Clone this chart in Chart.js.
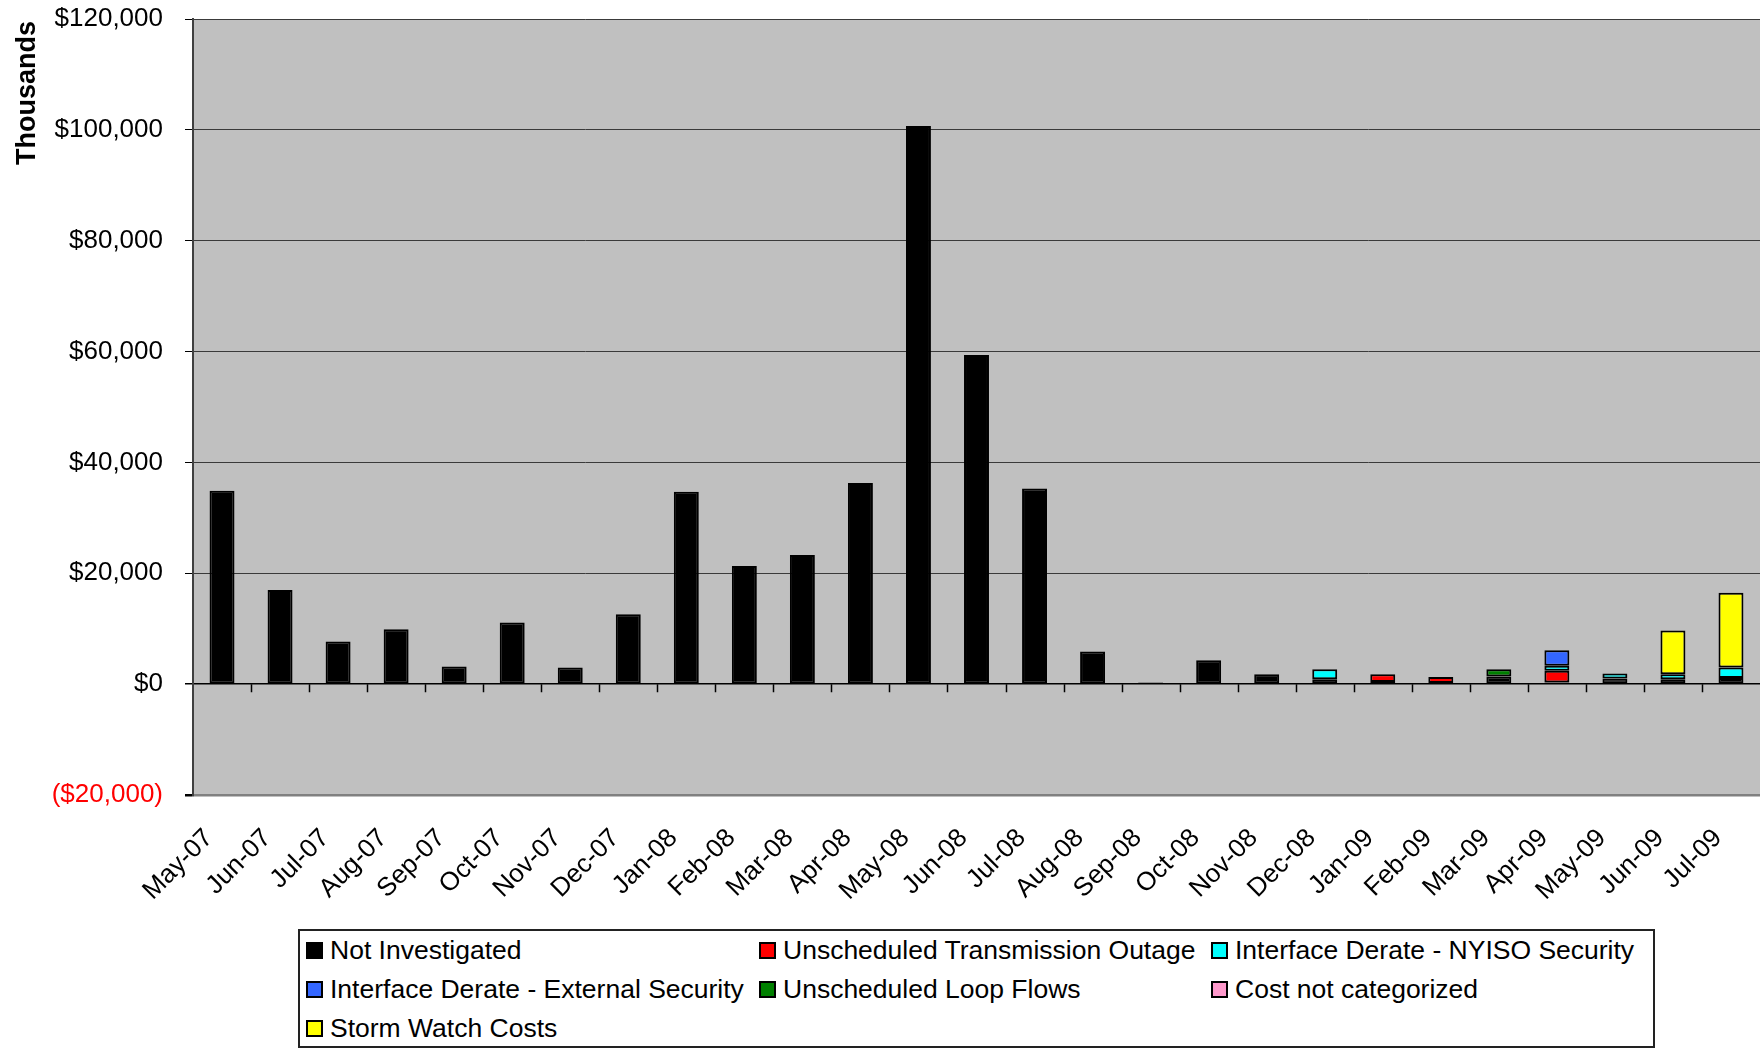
<!DOCTYPE html>
<html>
<head>
<meta charset="utf-8">
<title>Congestion costs by category</title>
<script src="https://cdn.jsdelivr.net/npm/chart.js@4"></script>
<style>
  html, body { margin: 0; padding: 0; background: #fff; }
  #wrap { position: relative; width: 1760px; height: 1048px; overflow: hidden; font-family: "Liberation Sans", Arial, sans-serif; }
  #chart { position: absolute; left: 0; top: 0; }
  #ytitle { position: absolute; left: -54px; top: 78px; width: 160px; line-height: 30px; text-align: center;
            font-size: 27px; font-weight: bold; transform: rotate(-90deg); color: #000; }
  #legend { position: absolute; left: 298px; top: 929px; width: 1357px; height: 119px; box-sizing: border-box;
            border: 2px solid #222; background: #fff; padding: 0 0 0 6px;
            display: grid; grid-template-columns: 453px 452px auto; grid-auto-rows: 39px; }
  .item { display: flex; align-items: center; font-size: 26.5px; color: #000; white-space: nowrap; }
  .box { width: 13px; height: 13px; border: 2px solid #000; margin-right: 7px; flex: none; }
</style>
</head>
<body>
<div id="wrap">
  <canvas id="chart" width="1760" height="1048"></canvas>
  <div id="ytitle">Thousands</div>
  <div id="legend"></div>
</div>
<script>
/*=============== DATA ===============*/

// Months on the x axis
const months = ['May-07', 'Jun-07', 'Jul-07', 'Aug-07', 'Sep-07', 'Oct-07', 'Nov-07', 'Dec-07',
    'Jan-08', 'Feb-08', 'Mar-08', 'Apr-08', 'May-08', 'Jun-08', 'Jul-08', 'Aug-08', 'Sep-08',
    'Oct-08', 'Nov-08', 'Dec-08', 'Jan-09', 'Feb-09', 'Mar-09', 'Apr-09', 'May-09', 'Jun-09', 'Jul-09'];

// Cost per category, $ thousands
const notInvestigated = [34900, 17000, 7700, 9900, 3200, 11100, 3000, 12600,
    34700, 21300, 23300, 36300, 100700, 59400, 35300, 5900, 300,
    4300, 1800, 900, 400, 200, 1400, 300, 1000, 900, 1100];
const transmissionOutage = [0, 0, 0, 0, 0, 0, 0, 0,
    0, 0, 0, 0, 0, 0, 0, 0, 0,
    0, 0, 0, 1400, 1100, 0, 2100, 0, 0, 0];
const nyisoSecurity = [0, 0, 0, 0, 0, 0, 0, 0,
    0, 0, 0, 0, 0, 0, 0, 0, 0,
    0, 0, 1800, 0, 0, 0, 900, 900, 900, 1900];
const externalSecurity = [0, 0, 0, 0, 0, 0, 0, 0,
    0, 0, 0, 0, 0, 0, 0, 0, 0,
    0, 0, 0, 0, 0, 0, 2800, 0, 0, 0];
const loopFlows = [0, 0, 0, 0, 0, 0, 0, 0,
    0, 0, 0, 0, 0, 0, 0, 0, 0,
    0, 0, 0, 0, 0, 1300, 0, 0, 0, 0];
const notCategorized = [0, 0, 0, 0, 0, 0, 0, 0,
    0, 0, 0, 0, 0, 0, 0, 0, 0,
    0, 0, 0, 0, 0, 0, 0, 0, 0, 0];
const stormWatch = [0, 0, 0, 0, 0, 0, 0, 0,
    0, 0, 0, 0, 0, 0, 0, 0, 0,
    0, 0, 0, 0, 0, 0, 0, 0, 7900, 13500];

// Y axis range
const yMin = -20000;
const yMax = 120000;
const yStep = 20000;

/*=============== SERIES ===============*/

const series = [
    { label: 'Not Investigated', data: notInvestigated, color: '#000000' },
    { label: 'Unscheduled Transmission Outage', data: transmissionOutage, color: '#FF0000' },
    { label: 'Interface Derate - NYISO Security', data: nyisoSecurity, color: '#00FFFF' },
    { label: 'Interface Derate - External Security', data: externalSecurity, color: '#3366FF' },
    { label: 'Unscheduled Loop Flows', data: loopFlows, color: '#008000' },
    { label: 'Cost not categorized', data: notCategorized, color: '#FF99CC' },
    { label: 'Storm Watch Costs', data: stormWatch, color: '#FFFF00' }
];

// Gray plot area
const plotBackground = {
    id: 'plotBackground',
    beforeDraw(chart) {
        const { ctx, chartArea: a } = chart;
        ctx.save();
        ctx.fillStyle = '#C0C0C0';
        ctx.fillRect(a.left, a.top, a.right - a.left, a.bottom - a.top);
        ctx.restore();
    }
};

// Small tick marks hanging under the zero line between categories
const zeroTicks = {
    id: 'zeroTicks',
    afterDatasetsDraw(chart) {
        const { ctx, scales: { x, y } } = chart;
        const y0 = y.getPixelForValue(0);
        ctx.save();
        ctx.strokeStyle = '#000';
        ctx.lineWidth = 1.5;
        ctx.beginPath();
        for (let i = 1; i < months.length; i++) {
            const px = Math.round(x.getPixelForValue(i - 0.5)) + 0.5;
            ctx.moveTo(px, y0);
            ctx.lineTo(px, y0 + 8);
        }
        ctx.stroke();
        ctx.restore();
    }
};

const fmtMoney = v => v < 0
    ? '($' + Math.abs(v).toLocaleString('en-US') + ')'
    : '$' + v.toLocaleString('en-US');

Chart.defaults.font.family = '"Liberation Sans", Arial, sans-serif';
Chart.defaults.color = '#000';

document.addEventListener('DOMContentLoaded', () => {
    try {
        const canvas = document.getElementById('chart');
        new Chart(canvas.getContext('2d'), {
            type: 'bar',
            data: {
                labels: months,
                datasets: series.map(s => ({
                    label: s.label,
                    data: s.data,
                    backgroundColor: s.color,
                    borderColor: '#000',
                    borderWidth: 2,
                    borderSkipped: false,
                    categoryPercentage: 1,
                    barPercentage: 0.43
                }))
            },
            options: {
                responsive: false,
                animation: false,
                devicePixelRatio: 1,
                layout: { padding: { top: 19, left: 0, right: 0, bottom: 0 } },
                plugins: {
                    legend: { display: false },
                    tooltip: { enabled: false }
                },
                scales: {
                    x: {
                        stacked: true,
                        grid: { display: false },
                        border: { display: false },
                        ticks: {
                            autoSkip: false,
                            minRotation: 45,
                            maxRotation: 45,
                            padding: 20,
                            labelOffset: -13,
                            font: { size: 26 },
                            color: '#000'
                        },
                        afterFit(scale) {
                            scale.height = 253;
                            scale.paddingLeft = 0;
                            scale.paddingRight = 0;
                        }
                    },
                    y: {
                        stacked: true,
                        min: yMin,
                        max: yMax,
                        ticks: {
                            stepSize: yStep,
                            padding: 22,
                            font: { size: 26 },
                            color: ctx => ctx.tick.value < 0 ? '#FF0000' : '#000',
                            callback: v => fmtMoney(v)
                        },
                        grid: {
                            color: ctx => ctx.tick.value === 0 ? '#000' : (ctx.tick.value === yMin ? '#808080' : '#3a3a3a'),
                            lineWidth: ctx => ctx.tick.value === 0 ? 1.5 : (ctx.tick.value === yMin ? 2.5 : 1),
                            tickColor: '#000',
                            tickLength: 8
                        },
                        border: { color: '#404040', width: 2 },
                        afterFit(scale) {
                            scale.width = 193;
                            scale.paddingTop = 0;
                            scale.paddingBottom = 0;
                        }
                    }
                }
            },
            plugins: [plotBackground, zeroTicks]
        });

        // Legend in three columns
        const legend = document.getElementById('legend');
        series.forEach(s => {
            const item = document.createElement('div');
            item.className = 'item';
            const box = document.createElement('span');
            box.className = 'box';
            box.style.background = s.color;
            item.appendChild(box);
            item.appendChild(document.createTextNode(s.label));
            legend.appendChild(item);
        });
    } catch (error) {
        console.error('Error drawing chart:', error);
    }
});
</script>
</body>
</html>
